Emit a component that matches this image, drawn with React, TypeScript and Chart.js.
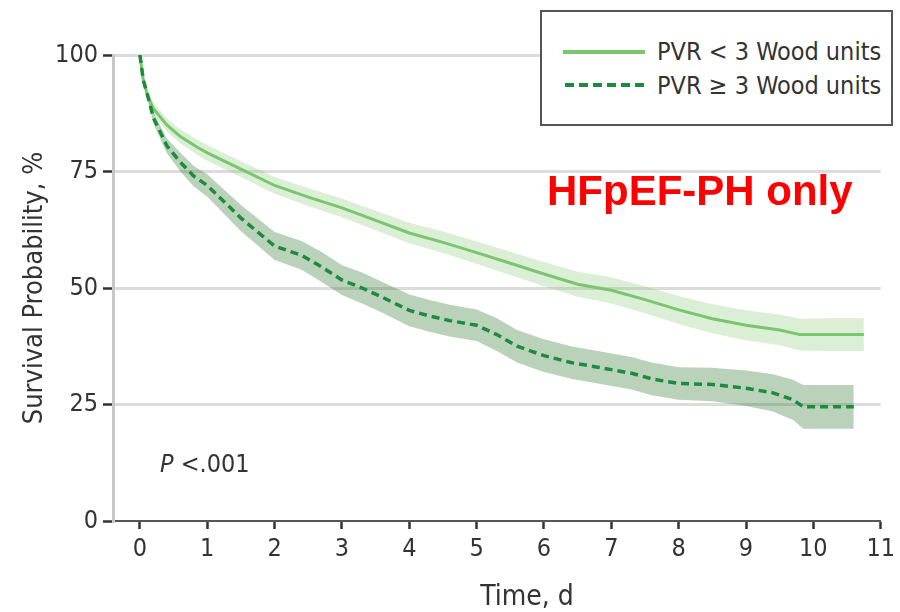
import React, { useEffect, useRef } from "react";
import { Chart, registerables } from "chart.js";

Chart.register(...registerables);

// ---------- data ----------
const yTicks = [0, 25, 50, 75, 100];
const xTicks = [0, 1, 2, 3, 4, 5, 6, 7, 8, 9, 10, 11];

const lowLabel = "PVR < 3 Wood units";
const highLabel = "PVR \u2265 3 Wood units";
const xTitle = "Time, d";
const yTitle = "Survival Probability, %";

// PVR < 3 Wood units
const lowTimes = [0, 0.05, 0.12, 0.2, 0.4, 0.6, 0.84, 1, 1.5, 2, 2.5, 3, 3.5, 4, 4.5, 5, 5.5, 6, 6.5, 7, 7.5, 8, 8.5, 9, 9.5, 9.8, 10.2, 10.75];
const lowSurv = [100, 94.6, 91, 88.5, 85, 82.5, 80.3, 79, 75.5, 72, 69.5, 67.2, 64.5, 61.8, 59.8, 57.6, 55.3, 53, 50.8, 49.5, 47.5, 45.3, 43.4, 42, 41, 40, 40, 40];
const lowLower = [100, 94, 90, 87.3, 83.6, 81, 78.7, 77.3, 73.8, 70.2, 67.6, 65.2, 62.4, 59.6, 57.5, 55.2, 52.8, 50.4, 48.1, 46.7, 44.6, 42.3, 40.3, 38.8, 37.7, 36.6, 36.5, 36.5];
const lowUpper = [100, 95.2, 92, 89.7, 86.4, 84, 81.9, 80.7, 77.2, 73.8, 71.4, 69.2, 66.6, 64, 62.1, 60, 57.8, 55.6, 53.5, 52.3, 50.4, 48.3, 46.5, 45.2, 44.3, 43.4, 43.5, 43.5];

// PVR >= 3 Wood units
const highTimes = [0, 0.05, 0.12, 0.2, 0.4, 0.6, 0.8, 1, 1.25, 1.5, 1.75, 2, 2.4, 2.7, 3, 3.3, 3.6, 4, 4.3, 4.6, 5, 5.3, 5.6, 6, 6.4, 6.8, 7.3, 7.6, 8, 8.5, 9, 9.4, 9.7, 9.85, 10.6];
const highSurv = [100, 94.6, 91, 86.5, 80.5, 77, 74, 72, 68.5, 65, 62, 59, 57, 54.5, 51.7, 50, 48, 45.2, 44, 43, 42, 40, 37.5, 35.5, 34, 33, 31.7, 30.5, 29.5, 29.3, 28.5, 27.5, 26, 24.5, 24.5];
const highLower = [100, 94, 90.1, 85.3, 78.9, 75, 71.8, 69.6, 65.9, 62.2, 59.1, 56, 53.9, 51.3, 48.5, 46.7, 44.7, 41.8, 40.6, 39.6, 38.6, 36.5, 34, 32, 30.5, 29.5, 28.2, 27, 26, 25.7, 24.7, 23.5, 21.7, 19.8, 19.8];
const highUpper = [100, 95.2, 91.9, 87.7, 82.1, 79, 76.2, 74.4, 71.1, 67.8, 64.9, 62, 60.1, 57.7, 54.9, 53.3, 51.3, 48.6, 47.4, 46.4, 45.4, 43.5, 41, 39, 37.5, 36.5, 35.2, 34, 33, 32.9, 32.3, 31.5, 30.3, 29.2, 29.2];

// ---------- styles ----------
const LIGHT_LINE = "rgb(122,198,110)";
const LIGHT_BAND = "rgba(140,205,125,0.32)";
const DARK_LINE = "rgb(28,140,60)";
const DARK_BAND = "rgba(60,130,60,0.36)";
const NARROW = "'Liberation Sans Narrow', 'DejaVu Sans Condensed', 'Roboto', sans-serif";
const TEXT = "#333333";

const pts = (xs: number[], ys: number[]) => xs.map((x, i) => ({ x, y: ys[i] }));

export default function App() {
  const canvasRef = useRef<HTMLCanvasElement | null>(null);

  useEffect(() => {
    const canvas = canvasRef.current;
    if (!canvas) return;
    const chart = new Chart(canvas, {
      type: "line",
      data: {
        datasets: [
          { label: "lowLower", data: pts(lowTimes, lowLower), borderWidth: 0, pointRadius: 0, fill: false, order: 10, borderColor: "rgba(0,0,0,0)" },
          { label: "lowUpper", data: pts(lowTimes, lowUpper), borderWidth: 0, pointRadius: 0, fill: "-1", backgroundColor: LIGHT_BAND, order: 10, borderColor: "rgba(0,0,0,0)" },
          { label: "highLower", data: pts(highTimes, highLower), borderWidth: 0, pointRadius: 0, fill: false, order: 9, borderColor: "rgba(0,0,0,0)" },
          { label: "highUpper", data: pts(highTimes, highUpper), borderWidth: 0, pointRadius: 0, fill: "-1", backgroundColor: DARK_BAND, order: 9, borderColor: "rgba(0,0,0,0)" },
          { label: lowLabel, data: pts(lowTimes, lowSurv), borderColor: LIGHT_LINE, borderWidth: 3, pointRadius: 0, fill: false, order: 1 },
          { label: highLabel, data: pts(highTimes, highSurv), borderColor: DARK_LINE, borderWidth: 3.5, borderDash: [8, 5], pointRadius: 0, fill: false, order: 0 },
        ],
      },
      options: {
        responsive: false,
        animation: false,
        events: [],
        layout: { padding: { top: 55, right: 17, left: 0, bottom: 0 } },
        plugins: { legend: { display: false }, tooltip: { enabled: false }, title: { display: false } },
        elements: { line: { tension: 0 } },
        scales: {
          x: {
            type: "linear",
            min: -0.4,
            max: 11,
            afterBuildTicks: (s: any) => { s.ticks = xTicks.map((v) => ({ value: v })); },
            afterFit: (s: any) => { s.height = 91; },
            ticks: { color: TEXT, font: { family: NARROW, size: 25 }, padding: 5, autoSkip: false, maxRotation: 0 },
            grid: { drawOnChartArea: false, drawTicks: true, tickLength: 8, tickWidth: 2.5, tickColor: "#333", color: "#333" },
            border: { color: "#555", width: 2 },
            title: { display: false },
          },
          y: {
            min: 0,
            max: 100,
            afterBuildTicks: (s: any) => { s.ticks = yTicks.map((v) => ({ value: v })); },
            afterFit: (s: any) => { s.width = 113; },
            ticks: { color: TEXT, font: { family: NARROW, size: 25 }, padding: 5 },
            grid: {
              color: (c: any) => (c.tick && c.tick.value === 0 ? "rgba(0,0,0,0)" : "#dcdcdc"),
              lineWidth: 3,
              tickLength: 10,
              tickWidth: 2.5,
              tickColor: "#333",
            },
            border: { color: "#c8c8c8", width: 3 },
            title: { display: true, text: yTitle, color: TEXT, font: { family: NARROW, size: 27, lineHeight: 1.2 }, padding: { top: 19, bottom: 0 } },
          },
        },
      },
    });
    return () => chart.destroy();
  }, []);

  const legendText: React.CSSProperties = { position: "absolute", left: 115, fontFamily: NARROW, fontSize: 25, lineHeight: 1, color: TEXT, whiteSpace: "nowrap" };

  return (
    <div style={{ position: "absolute", left: 0, top: 0, width: 900, height: 612, background: "#fff", overflow: "hidden" }}>
      <canvas ref={canvasRef} width={900} height={612} style={{ position: "absolute", left: 0, top: 0 }} />
      <div style={{ position: "absolute", left: 540, top: 10, width: 353, height: 116, boxSizing: "border-box", border: "2px solid #555", background: "#fff" }}>
        <div style={{ position: "absolute", left: 21, top: 38, width: 82, height: 4, background: LIGHT_LINE }} />
        <div style={{ position: "absolute", left: 23, top: 71, width: 82, height: 4, background: `repeating-linear-gradient(to right, ${DARK_LINE} 0 9px, transparent 9px 14px)` }} />
        <div style={{ ...legendText, top: 27 }}>{lowLabel}</div>
        <div style={{ ...legendText, top: 61 }}>{highLabel}</div>
      </div>
      <div style={{ position: "absolute", left: 547, top: 170, fontFamily: "'Liberation Sans', Arial, sans-serif", fontWeight: 700, fontSize: 42, lineHeight: 1, color: "#ff0000", whiteSpace: "nowrap" }}>
        HFpEF-PH only
      </div>
      <div style={{ position: "absolute", left: 160, top: 451, fontFamily: NARROW, fontSize: 25, lineHeight: 1, color: TEXT, whiteSpace: "nowrap" }}>
        <i>P</i> &lt;.001
      </div>
      <div style={{ position: "absolute", left: 427, width: 200, top: 582, textAlign: "center", fontFamily: NARROW, fontSize: 28, lineHeight: 1, color: TEXT, whiteSpace: "nowrap" }}>
        {xTitle}
      </div>
    </div>
  );
}
